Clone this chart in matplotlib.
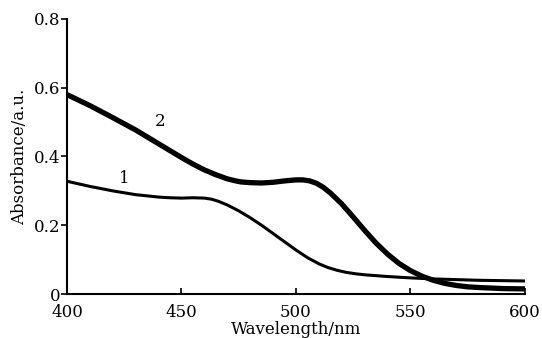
import numpy as np
import matplotlib
matplotlib.use('Agg')
import matplotlib.pyplot as plt

# absorbance spectra
wl_2 = [400, 410, 420, 430, 440, 450, 455, 460, 465, 470, 473, 476, 480, 485, 490, 495, 500,
        503, 506, 509, 512, 515, 520, 525, 530, 535, 540, 545, 550, 555, 560, 565, 570,
        575, 580, 590, 600]
abs_2 = [0.580, 0.548, 0.513, 0.477, 0.437, 0.397, 0.378, 0.361, 0.347, 0.335, 0.330, 0.326,
         0.324, 0.323, 0.325, 0.329, 0.332, 0.332, 0.329, 0.322, 0.310, 0.294, 0.262, 0.224,
         0.185, 0.148, 0.116, 0.089, 0.068, 0.052, 0.040, 0.031, 0.025, 0.021, 0.019, 0.016,
         0.015]

wl_1 = [400, 410, 420, 430, 440, 445, 450, 455, 460, 463, 466, 470, 475, 480, 485, 490, 495,
        500, 505, 510, 514, 518, 522, 526, 530, 540, 550, 560, 570, 580, 590, 600]
abs_1 = [0.328, 0.313, 0.300, 0.289, 0.282, 0.280, 0.279, 0.280, 0.279, 0.276, 0.270, 0.259,
         0.242, 0.222, 0.200, 0.176, 0.152, 0.128, 0.106, 0.088, 0.077, 0.069, 0.063, 0.059,
         0.056, 0.051, 0.047, 0.044, 0.042, 0.040, 0.039, 0.038]

xticks = [400, 450, 500, 550, 600]
yticks = [0, 0.2, 0.4, 0.6, 0.8]
ytick_labels = ['0', '0.2', '0.4', '0.6', '0.8']

plt.rcParams['font.family'] = 'DejaVu Serif'

fig = plt.figure(figsize=(5.42, 3.38), dpi=100)
ax = fig.add_axes([0.1236, 0.130, 0.845, 0.814])

ax.plot(wl_1, abs_1, color='black', lw=2.2, solid_capstyle='butt', solid_joinstyle='round')
ax.plot(wl_2, abs_2, color='black', lw=3.8, solid_capstyle='butt', solid_joinstyle='round')

ax.text(425, 0.337, '1', fontsize=12, ha='center', va='center')
ax.text(440.6, 0.503, '2', fontsize=12, ha='center', va='center')

ax.set_xlim(400, 600)
ax.set_ylim(0, 0.8)
ax.set_xticks(xticks)
ax.set_yticks(yticks)
ax.set_yticklabels(ytick_labels)
ax.spines['top'].set_visible(False)
ax.spines['right'].set_visible(False)
ax.spines['left'].set_linewidth(1.5)
ax.spines['bottom'].set_linewidth(1.5)
ax.tick_params(axis='x', direction='in', length=4, width=1.2, labelsize=12, pad=7)
ax.tick_params(axis='y', direction='out', length=4, width=1.2, labelsize=12, pad=1)

ax.set_xlabel('Wavelength/nm', fontsize=12, labelpad=0)
ax.set_ylabel('Absorbance/a.u.', fontsize=12, labelpad=4)

plt.savefig('out.png', dpi=100)
